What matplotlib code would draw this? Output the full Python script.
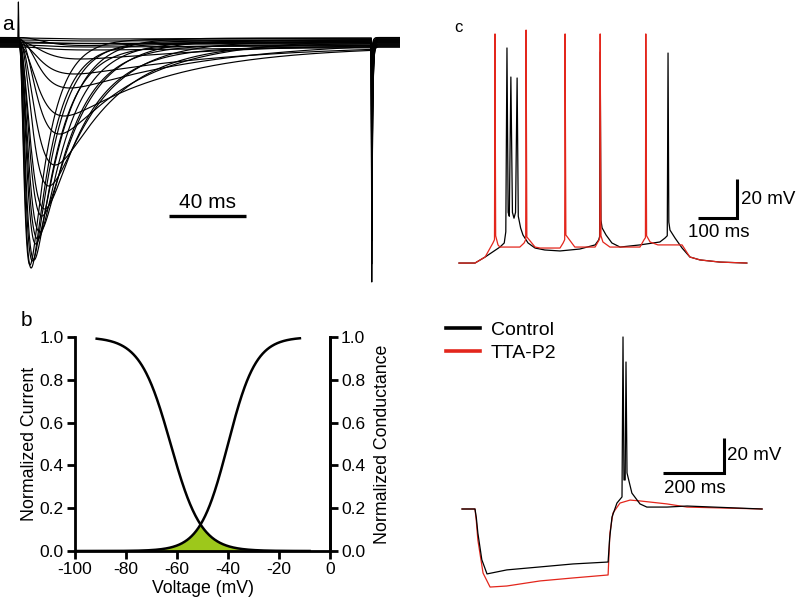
import numpy as np
import matplotlib
matplotlib.use('Agg')
import matplotlib.pyplot as plt

plt.rcParams['font.family'] = ['Liberation Sans', 'DejaVu Sans']
plt.rcParams['axes.unicode_minus'] = False

W, H = 798, 608

# ---------------- Panel a: T-type current family (ms, nA) ----------------
a_amp = [2.26, 2.24, 2.20, 2.14, 2.06, 1.97, 1.87, 1.76, 1.62, 1.45, 1.22, 0.95, 0.70, 0.48, 0.30, 0.17, 0.08,
         0.03, 0.02, 0.015, 0.01, 0.01, 0.005]
a_tpk = [5.7, 6.3, 7.0, 7.8, 8.7, 9.7, 10.8, 11.9, 13.3, 15.5, 18.7, 21.0, 23.5, 26.5, 29.0, 32.0, 35.0,
         38, 40, 40, 40, 40, 40]
a_tauh = [10, 11, 12, 13, 14, 15.5, 17, 19, 21, 24, 30, 40, 55, 75, 85, 95, 100,
          100, 100, 100, 100, 100, 100]
a_offset = [0.03, -0.02, 0.01, -0.04, 0.04, 0.0, -0.03, 0.02, -0.05, 0.01, -0.01, 0.03, -0.04, 0.02, -0.02, 0.0, 0.045,
            -0.05, -0.03, 0.0, 0.02, 0.04, -0.01]
a_tail = [2.43, 2.2, 2.0, 1.85, 1.7, 1.6, 1.5, 1.4, 1.3, 1.15, 1.0, 0.85, 0.7, 0.55, 0.45, 0.35, 0.3,
          0.25, 0.2, 0.2, 0.15, 0.15, 0.1]
a_cap = 0.37
a_step_end = 183.0
a_bar_ms = 40

# ---------------- Panel b: Boltzmann fits ----------------
b_inact_vhalf, b_inact_k = -62.5, 6.0
b_act_vhalf, b_act_k = -40.0, 5.5
b_inact_range = (-91.5, -8)
b_act_range = (-100, -11.8)
b_xticks = [-100, -80, -60, -40, -20, 0]
b_yticks = [0.0, 0.2, 0.4, 0.6, 0.8, 1.0]

# ---------------- Panel c top: tonic/burst firing (ms, mV) ----------------
ctop_t_red = [0, 41, 67, 87, 91, 92.3, 94, 100, 105, 156, 167, 171, 172, 174, 195, 208, 259, 267, 271, 272,
              274, 297, 349, 359, 361, 362, 364, 369, 387, 464, 474, 478, 479, 481, 490, 510, 572, 592, 618, 669, 738]
ctop_v_red = [-84, -84, -80.9, -73.7, -72, 33.5, -70, -74.7, -75.8, -75.8, -73.7, -72, 35.5, -70.6, -75.8, -76.3, -76.3, -73.7, -72, 33.5,
              -69.6, -75.8, -75.8, -72.2, -71, 33.5, -70, -73.2, -75.8, -75.8, -72.2, -71, 33.5, -70, -73.2, -74.7, -74.7, -80.9, -82.4, -83.5, -84]
ctop_t_blk = [0, 41, 67, 105, 116, 120, 123, 126, 129, 133, 137, 141, 145, 149, 152, 158, 164, 177, 195, 220,
              259, 310, 349, 358, 360.5, 362, 364, 367, 377, 392, 413, 464, 515, 528, 534, 536, 538, 541, 554, 572,
              592, 618, 669, 738]
ctop_v_blk = [-84, -84, -80.9, -75.8, -73.7, -68, 26.3, -58, -60, 11.4, -58, -61, -58, 10.9, -60, -66, -69.6, -73.7, -76.3, -77.3,
              -77.8, -76.8, -74.7, -72.2, -70.5, 24.2, -62, -66, -69.6, -73.7, -75.8, -74.7, -73.2, -71.2, -70, 23.7, -63, -67.1, -71.2, -76.3,
              -80.9, -82.4, -83.5, -84]

# ---------------- Panel c bottom: rebound burst (ms, mV) ----------------
cbot_t_blk = [0, 42.6, 47, 52, 65, 82, 147, 256, 364, 479, 484, 491.8, 508, 524.6, 527.9, 531, 535, 537.7, 541, 557,
              583.6, 606, 672, 738, 984]
cbot_v_blk = [-65, -65, -70, -78.7, -94, -102.1, -99.8, -98.1, -96.4, -95.3, -82, -69.6, -61.6, -58.1, 33.3, -48.4, -48.4, 19, -44.4, -55.9,
              -62.1, -63.9, -63.9, -63.3, -65]
cbot_t_red = [0, 42.6, 47, 52, 69, 92, 147, 256, 364, 479, 485, 495, 518, 551, 584, 672, 738, 984]
cbot_v_red = [-65, -65, -72, -82.7, -101.6, -109.6, -109, -106.1, -104.4, -102.7, -78.7, -67.3, -61.6, -59.9, -60.4, -62.1, -63.9, -65]
legend_labels = ['Control', 'TTA-P2']

RED = '#e3261c'

fig = plt.figure(figsize=(W / 100, H / 100), dpi=100)


def px_axes(x0, y0, x1, y1):
    return fig.add_axes([x0 / W, 1 - y1 / H, (x1 - x0) / W, (y1 - y0) / H])


# ---- panel a ----
axa = px_axes(0, 0, 400, 290)
axa.axis('off')
ms_px = 1.925
axa.set_xlim(-19 / ms_px, (400 - 19) / ms_px)
axa.set_ylim((42 - 290) / 100, 42 / 100)


def solve_taum(tp, th):
    lo, hi = 1e-3, tp * 5
    for _ in range(80):
        mid = 0.5 * (lo + hi)
        u = np.exp(-tp / mid)
        f = 3 * th * u - mid * (1 - u)
        if f > 0:
            hi = mid
        else:
            lo = mid
    return 0.5 * (lo + hi)


t_main = np.linspace(0, a_step_end, 1500)
t_tail = np.linspace(a_step_end + 0.25, (400 - 19) / ms_px, 400)
for i, (A, tp, th, off, tl) in enumerate(zip(a_amp, a_tpk, a_tauh, a_offset, a_tail)):
    tm = solve_taum(tp, th)
    g = (1 - np.exp(-t_main / tm)) ** 3 * np.exp(-t_main / th)
    gp = (1 - np.exp(-tp / tm)) ** 3 * np.exp(-tp / th)
    I_main = off - A * g / gp
    I_tail = off - tl * np.exp(-(t_tail - t_tail[0]) / 0.45)
    cap = a_cap if i == 0 else 0.0
    t_all = np.concatenate([[-19 / ms_px, -0.6, -0.3, -0.05], t_main, t_tail])
    I_all = np.concatenate([[off, off, off + cap, off], I_main, I_tail])
    axa.plot(t_all, I_all, color='black', lw=0.85)

bar_y = -(216 - 42) / 100
bar_t0 = (169 - 19) / ms_px
axa.plot([bar_t0, bar_t0 + a_bar_ms], [bar_y, bar_y], color='black', lw=2.4, solid_capstyle='butt')
axa.text(bar_t0 + a_bar_ms / 2, bar_y + 0.04, f'{a_bar_ms} ms', ha='center', va='bottom', fontsize=15)
fig.text(2 / W, 1 - 24 / H, 'a', fontsize=15, ha='left', va='center')

# ---- panel b ----
axb = px_axes(75, 337, 330, 551)
vi = np.linspace(*b_inact_range, 400)
va_ = np.linspace(*b_act_range, 400)
inact = 1 / (1 + np.exp((vi - b_inact_vhalf) / b_inact_k))
act = 1 / (1 + np.exp((b_act_vhalf - va_) / b_act_k))
vw = np.linspace(-100, 0, 800)
win = np.minimum(1 / (1 + np.exp((vw - b_inact_vhalf) / b_inact_k)),
                 1 / (1 + np.exp((b_act_vhalf - vw) / b_act_k)))
axb.fill_between(vw, 0, win, color='#9dc81b', lw=0)
axb.plot(vi, inact, color='black', lw=1.8)
axb.plot(va_, act, color='black', lw=1.8)
axb.set_xlim(-100, 0)
axb.set_ylim(0, 1)
axb.set_xticks(b_xticks)
axb.set_xticklabels([str(v) for v in b_xticks])
axb.set_yticks(b_yticks)
axb.set_yticklabels([f'{v:.1f}' for v in b_yticks])
for s in ['left', 'bottom', 'right']:
    axb.spines[s].set_linewidth(2.0)
axb.spines['top'].set_visible(False)
axb.tick_params(direction='out', length=6, width=2.0, labelsize=12.5, pad=2)
axb.set_xlabel('Voltage (mV)', fontsize=12.7, labelpad=2)
axb.set_ylabel('Normalized Current', fontsize=12.8, labelpad=1)
axb2 = axb.twinx()
axb2.set_ylim(0, 1)
axb2.set_yticks(b_yticks)
axb2.set_yticklabels([f'{v:.1f}' for v in b_yticks])
axb2.spines['right'].set_linewidth(2.0)
axb2.spines['top'].set_visible(False)
axb2.tick_params(direction='out', length=6, width=2.0, labelsize=12.5, pad=2)
axb2.set_ylabel('Normalized Conductance', fontsize=12.8, labelpad=6)
fig.text(21 / W, 1 - 320 / H, 'b', fontsize=15, ha='left', va='center')

# ---- panel c top ----
axc = px_axes(440, 20, 798, 290)
axc.axis('off')
tpx, vpx = 0.39, 1.95
axc.set_xlim((440 - 459) / tpx, (798 - 459) / tpx)
axc.set_ylim(-85 + (265 - 290) / vpx, -85 + (265 - 20) / vpx)
axc.plot(ctop_t_blk, ctop_v_blk, color='black', lw=0.9)
axc.plot(ctop_t_red, ctop_v_red, color=RED, lw=0.9)
sb_t1 = (737 - 459) / tpx
sb_v0 = -85 + (265 - 218) / vpx
axc.plot([sb_t1 - 100, sb_t1, sb_t1], [sb_v0, sb_v0, sb_v0 + 20], color='black', lw=2.2,
         solid_joinstyle='miter', solid_capstyle='butt')
axc.text(sb_t1 + 10, sb_v0 + 9.5, '20 mV', ha='left', va='center', fontsize=13.5)
axc.text(sb_t1 - 48, sb_v0 - 7.5, '100 ms', ha='center', va='center', fontsize=13.5)
fig.text(454 / W, 1 - 28 / H, 'c', fontsize=12, ha='left', va='center')

# ---- panel c bottom ----
axd = px_axes(440, 300, 798, 608)
axd.axis('off')
tpx2, vpx2 = 0.305, 1.75
axd.set_xlim((440 - 462) / tpx2, (798 - 462) / tpx2)
axd.set_ylim(-65 + (509 - 608) / vpx2, -65 + (509 - 300) / vpx2)
axd.plot(cbot_t_red, cbot_v_red, color=RED, lw=0.9, label=legend_labels[1])
axd.plot(cbot_t_blk, cbot_v_blk, color='black', lw=0.9, label=legend_labels[0])
h, l = axd.get_legend_handles_labels()
leg = axd.legend(h[::-1], l[::-1], loc='upper left', bbox_to_anchor=(446 / W, 1 - 321 / H),
                 bbox_transform=fig.transFigure, frameon=False, fontsize=14, handlelength=1.75,
                 handletextpad=0.55, labelspacing=0.3, borderpad=0, borderaxespad=0)
for hl in leg.legend_handles:
    hl.set_linewidth(2.6)
sb2_t1 = (724 - 462) / tpx2
sb2_v0 = -65 + (509 - 473) / vpx2
axd.plot([sb2_t1 - 200, sb2_t1, sb2_t1], [sb2_v0, sb2_v0, sb2_v0 + 20], color='black', lw=2.2,
         solid_joinstyle='miter', solid_capstyle='butt')
axd.text(sb2_t1 + 10, sb2_v0 + 10, '20 mV', ha='left', va='center', fontsize=13.5)
axd.text(sb2_t1 - 97, sb2_v0 - 8.8, '200 ms', ha='center', va='center', fontsize=13.5)

fig.savefig('out.png', dpi=100)
